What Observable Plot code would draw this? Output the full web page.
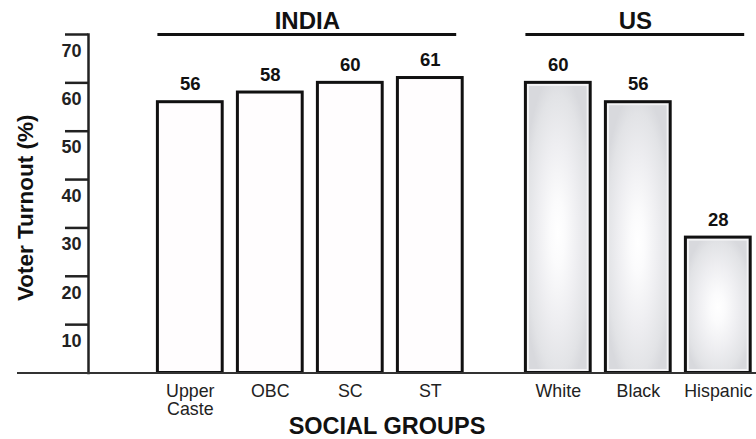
<!DOCTYPE html>
<html>
<head>
<meta charset="utf-8">
<script src="https://cdn.jsdelivr.net/npm/d3@7"></script>
<script src="https://cdn.jsdelivr.net/npm/@observablehq/plot@0.6"></script>
<style>
  html, body { margin: 0; padding: 0; background: #fff; }
  #chart svg { display: block; }
</style>
</head>
<body>
<div id="chart"></div>
<script>
// Voter turnout by social group, India vs US
const groups = ["INDIA", "US"];
const categories = ["Upper\nCaste", "OBC", "SC", "ST", "White", "Black", "Hispanic"];
const categoryGroup = ["INDIA", "INDIA", "INDIA", "INDIA", "US", "US", "US"];
const turnout = [56, 58, 60, 61, 60, 56, 28];
const yTicks = [10, 20, 30, 40, 50, 60, 70];
const yLabel = "Voter Turnout (%)";
const xLabel = "SOCIAL GROUPS";

// layout: one slot per bar, with an extra gap between the two countries
const groupGap = 0.6;
const barHalf = 0.405;
const rows = categories.map((name, i) => ({
  name,
  group: categoryGroup[i],
  value: turnout[i],
  slot: i + groups.indexOf(categoryGroup[i]) * groupGap
}));
const groupRows = groups.map(g => {
  const s = rows.filter(r => r.group === g).map(r => r.slot);
  const x1 = d3.min(s) - barHalf, x2 = d3.max(s) + 0.33;
  return {group: g, x1, x2, mid: (x1 + x2) / 2};
});
const usRows = rows.filter(r => r.group === "US");
const xDomain = [-1.2725, 7.0775];
const yTop = 70;
const baselineStart = -2.16;
const font = "'Liberation Sans', Arial, Helvetica, sans-serif";

const chart = Plot.plot({
  width: 756,
  height: 439,
  marginLeft: 88,
  marginRight: 0,
  marginTop: 34,
  marginBottom: 66.5,
  style: {fontFamily: font, background: "#fff", color: "#111"},
  x: {type: "linear", domain: xDomain, axis: null},
  y: {domain: [0, yTop], axis: null},
  marks: [
    // bars
    Plot.rectY(rows.filter(r => r.group === "INDIA"), {
      x1: d => d.slot - barHalf, x2: d => d.slot + barHalf, y1: 0, y2: "value",
      fill: "#fffdfe", stroke: "#111", strokeWidth: 3
    }),
    Plot.rectY(usRows, {
      x1: d => d.slot - barHalf, x2: d => d.slot + barHalf, y1: 0, y2: "value",
      fill: "url(#usFill)"
    }),
    Plot.rectY(usRows, {
      x1: d => d.slot - barHalf, x2: d => d.slot + barHalf, y1: 0, y2: "value",
      inset: 2.5, fill: "none", stroke: "#f4f4f6", strokeWidth: 2
    }),
    Plot.rectY(usRows, {
      x1: d => d.slot - barHalf, x2: d => d.slot + barHalf, y1: 0, y2: "value",
      fill: "none", stroke: "#111", strokeWidth: 3
    }),
    // value labels
    Plot.text(rows, {
      x: "slot", y: "value", text: d => String(d.value),
      lineAnchor: "bottom", dy: -12, fontSize: 18.5, fontWeight: "bold", fill: "#111"
    }),
    // category labels
    Plot.text(rows, {
      x: "slot", y: 0, text: "name",
      lineAnchor: "top", dy: 10.5, fontSize: 17.8, lineHeight: 1.05, fill: "#222"
    }),
    // country headers
    Plot.ruleY(groupRows, {x1: "x1", x2: "x2", y: yTop, stroke: "#111", strokeWidth: 3}),
    Plot.text(groupRows, {
      x: "mid", y: yTop, text: "group", lineAnchor: "middle", dy: -13,
      fontSize: 24, fontWeight: "bold", fill: "#111"
    }),
    // y axis: tick marks, then labels sitting just below each tick
    Plot.axisY(yTicks, {
      tickSize: 23, tickFormat: () => "", label: null,
      strokeWidth: 2.5, stroke: "#222"
    }),
    Plot.axisY(yTicks, {
      tickSize: 0, tickPadding: 7, dy: 16.5, label: null,
      fontSize: 18, fontWeight: "bold", fill: "#222"
    }),
    Plot.frame({anchor: "left", stroke: "#222", strokeWidth: 2.5}),
    Plot.text([yLabel], {
      frameAnchor: "left", textAnchor: "middle", lineAnchor: "middle",
      rotate: -90, dx: -63, dy: 4,
      fontSize: 22.5, fontWeight: "bold", fill: "#111"
    }),
    // baseline
    Plot.ruleY([0], {x1: baselineStart, x2: xDomain[1], stroke: "#333", strokeWidth: 2}),
    // x axis title
    Plot.text([xLabel], {
      x: (baselineStart + xDomain[1]) / 2, y: 0, lineAnchor: "middle", dy: 53,
      fontSize: 23.5, fontWeight: "bold", fill: "#111"
    })
  ]
});

// soft grey sheen used by the US bars
const defs = d3.select(chart).insert("defs", ":first-child");
const grad = defs.append("radialGradient")
  .attr("id", "usFill")
  .attr("cx", 0.5).attr("cy", 0.52).attr("r", 0.56);
[[0, "#ffffff"], [0.2, "#fbfbfc"], [0.55, "#eeeef1"], [0.85, "#e2e3e6"], [1, "#d8d9dd"]]
  .forEach(([o, c]) => grad.append("stop").attr("offset", o).attr("stop-color", c));

document.getElementById("chart").appendChild(chart);
</script>
</body>
</html>
